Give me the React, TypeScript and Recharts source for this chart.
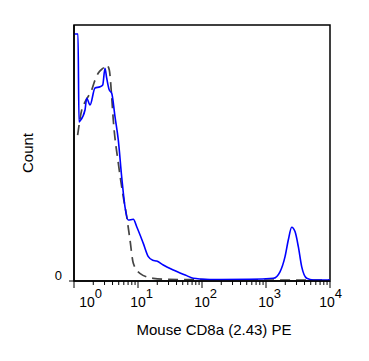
import React from 'react';
import { LineChart, Line, XAxis, YAxis, ReferenceArea } from 'recharts';

// stained sample (blue) and isotype control (dashed grey)
const blueX = [1, 1.155, 1.197, 1.24, 1.486, 1.58, 1.778, 2.13, 2.55, 2.81, 3.05, 3.24, 3.56, 3.88, 4.37, 4.92, 5.56, 6.26, 7.05, 8.45, 9.55, 12.1, 14.5, 17.0, 19.6, 24.8, 35.6, 57.7, 73.1, 93, 191, 562, 1300, 1655, 1983, 2230, 2523, 2840, 3200, 3610, 4325, 5480, 10000];
const blueY = [96.5, 96.5, 62.1, 62.5, 66.8, 71.4, 68.75, 75.4, 75.9, 76.6, 83.1, 79.3, 74.6, 73.4, 64.2, 55.1, 40.7, 29.0, 23.8, 24.1, 21.2, 14.7, 9.5, 8.1, 7.8, 6.25, 4.3, 2.1, 1.05, 0.8, 0.6, 0.66, 1.05, 3.6, 9.5, 16, 21, 19.3, 13.4, 5.6, 1.05, 0.4, 0.4];

const grayX = [1.14, 1.32, 1.49, 1.89, 2.13, 2.4, 2.87, 3.24, 3.56, 3.88, 4.11, 4.92, 5.89, 6.66, 7.5, 8.45, 10.7, 17.3, 28.1, 100, 1000, 10000];
const grayY = [57, 66.8, 70, 74.6, 78.5, 81.25, 83.2, 84.4, 82.4, 72, 62.9, 46.1, 32.9, 25.1, 16, 6.9, 3.0, 1.05, 0.66, 0.5, 0.4, 0.4];

const majorTicks = [1, 10, 100, 1000, 10000];
const minorSteps = [2, 3, 4, 5, 6, 7, 8, 9];
const yTicks = [0];

const blueData = blueX.map((x, i) => ({ x, y: blueY[i] }));
const grayData = grayX.map((x, i) => ({ x, y: grayY[i] }));
const allTicks = [
  ...majorTicks,
  ...majorTicks.slice(0, -1).flatMap((d) => minorSteps.map((m) => d * m)),
].sort((a, b) => a - b);

const FONT = '"Liberation Sans", Arial, sans-serif';

const XTick = (props: any) => {
  const { x, y, payload } = props;
  const lg = Math.log10(payload.value);
  const e = Math.round(lg);
  const major = Math.abs(lg - e) < 1e-6;
  const shift = e === 0 ? 13 : e === 4 ? -3 : 0;
  return (
    <g>
      <line x1={x} x2={x} y1={y} y2={y + (major ? 7 : 4)} stroke="#000" strokeWidth={1} />
      {major && (
        <text x={x - 7.8 + shift} y={y + 26} fontSize={14} fontFamily={FONT} fill="#000">
          10
          <tspan dy={-9} fontSize={13}>{e}</tspan>
        </text>
      )}
    </g>
  );
};

const YTick = (props: any) => {
  const { x, y, payload } = props;
  return (
    <g>
      <line x1={x - 5} x2={x} y1={y} y2={y} stroke="#000" strokeWidth={1} />
      <text x={x - 12} y={y - 1} textAnchor="end" fontSize={13} fontFamily={FONT} fill="#000">
        {payload.value}
      </text>
    </g>
  );
};

const XTitle = (props: any) => {
  const vb = props.viewBox || { x: 74, width: 256, y: 281 };
  return (
    <text x={vb.x + vb.width / 2 + 12} y={vb.y + 54} textAnchor="middle" fontSize={15} fontFamily={FONT} fill="#000">
      Mouse CD8a (2.43) PE
    </text>
  );
};

const YTitle = (props: any) => {
  const vb = props.viewBox || { x: 0, width: 74, y: 25, height: 256 };
  const cx = vb.x + 27;
  const cy = vb.y + vb.height / 2;
  return (
    <text x={cx} y={cy} transform={`rotate(-90 ${cx} ${cy})`} textAnchor="middle" dominantBaseline="central" fontSize={15} fontFamily={FONT} fill="#000">
      Count
    </text>
  );
};

export default function App() {
  return (
    <div style={{ position: 'absolute', left: 0, top: 0, width: 369, height: 361, background: '#fff' }}>
      <LineChart width={369} height={361} data={blueData} margin={{ top: 25, right: 39, bottom: 0, left: 0 }}>
        <XAxis
          dataKey="x"
          type="number"
          scale="log"
          domain={[1, 10000]}
          allowDataOverflow
          ticks={allTicks}
          interval={0}
          tickSize={0}
          tickMargin={0}
          tick={<XTick />}
          height={80}
          axisLine={{ stroke: '#000', strokeWidth: 1.5 }}
          label={<XTitle />}
        />
        <YAxis
          dataKey="y"
          type="number"
          domain={[0, 100]}
          allowDataOverflow
          ticks={yTicks}
          tickSize={0}
          tickMargin={0}
          tick={<YTick />}
          width={74}
          axisLine={{ stroke: '#000', strokeWidth: 1.5 }}
          label={<YTitle />}
        />
        <ReferenceArea x1={1} x2={10000} y1={0} y2={100} fill="none" stroke="#000" strokeWidth={1.5} />
        <Line
          data={grayData}
          dataKey="y"
          type="monotone"
          stroke="#444"
          strokeWidth={1.7}
          strokeDasharray="10 6"
          dot={false}
          isAnimationActive={false}
        />
        <Line
          data={blueData}
          dataKey="y"
          type="monotone"
          stroke="#0000ff"
          strokeWidth={1.6}
          dot={false}
          isAnimationActive={false}
        />
      </LineChart>
    </div>
  );
}
